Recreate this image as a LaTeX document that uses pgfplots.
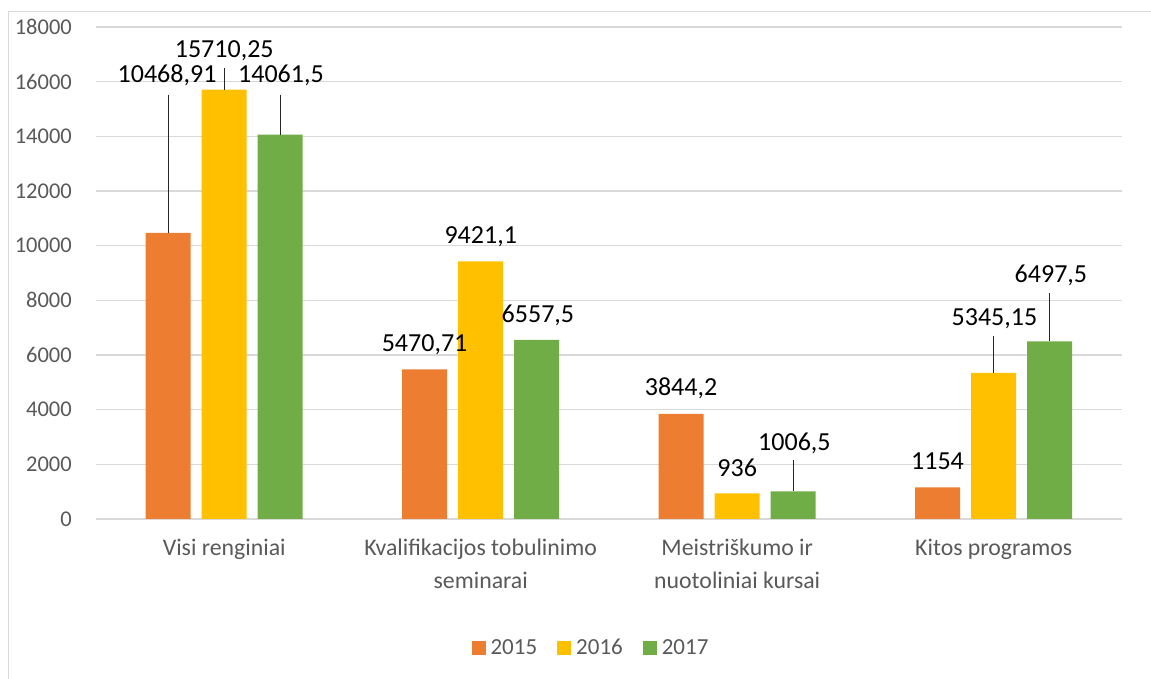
\documentclass[border=0pt]{standalone}
\usepackage{pgfplots}
\pgfplotsset{compat=1.18}
\usepackage{fontspec}
\setmainfont{Carlito}
\definecolor{cOr}{HTML}{ED7D31}
\definecolor{cYe}{HTML}{FFC000}
\definecolor{cGr}{HTML}{70AD47}
\definecolor{cGrid}{HTML}{D9D9D9}
\definecolor{cTxt}{HTML}{595959}
\definecolor{cLead}{HTML}{262626}
\begin{document}
\begin{tikzpicture}
\useasboundingbox (0,0) rectangle (1151pt,679pt);
\draw[cGrid, line width=1.5pt] (8.5pt,0) -- (8.5pt,667.5pt) -- (1151pt,667.5pt);
\begin{axis}[
  at={(96pt,160pt)}, anchor=south west,
  scale only axis, width=1026pt, height=492pt,
  ybar, bar width=45pt,
  xmin=-0.5, xmax=3.5, ymin=0, ymax=18000,
  enlarge x limits=false, enlarge y limits=false,
  clip=false,
  axis line style={draw=none},
  major tick length=0pt,
  ytick={0,2000,...,18000},
  scaled y ticks=false,
  ymajorgrids, grid style={cGrid, line width=1.5pt},
  xtick={0,1,2,3},
  xticklabels={Visi renginiai, Kvalifikacijos tobulinimo\\seminarai, Meistriškumo ir\\nuotoliniai kursai, Kitos programos},
  /pgf/number format/1000 sep={},
  /pgf/number format/assume math mode=true,
  yticklabel style={font=\fontsize{22.5}{27}\selectfont, text=cTxt, inner sep=0pt, xshift=-24pt},
  xticklabel style={font=\fontsize{23.8}{33}\selectfont, text=cTxt, align=center, inner sep=0pt, yshift=-20pt},
  legend columns=3,
  legend style={draw=none, fill=none, at={(0.4825,-0.262)}, anchor=center,
    font=\fontsize{23}{27}\selectfont, text=cTxt,
    /tikz/every even column/.append style={column sep=18pt}},
  legend cell align=left,
  legend image code/.code={\fill[#1] (0pt,-7pt) rectangle (14pt,7pt);},
]
\addplot[fill=cOr, draw=none, bar shift=-56pt] coordinates {(0,10468.91) (1,5470.71) (2,3844.2) (3,1154)};
\addplot[fill=cYe, draw=none, bar shift=0pt] coordinates {(0,15710.25) (1,9421.1) (2,936) (3,5345.15)};
\addplot[fill=cGr, draw=none, bar shift=56pt] coordinates {(0,14061.5) (1,6557.5) (2,1006.5) (3,6497.5)};
\legend{\hspace{3pt}2015,\hspace{3pt}2016,\hspace{3pt}2017}
% leader lines
\draw[cLead, line width=1.2pt] (axis cs:-0.218,15512) -- (axis cs:-0.218,10468.91);
\draw[cLead, line width=1.2pt] (axis cs:0,16500) -- (axis cs:0,15710.25);
\draw[cLead, line width=1.2pt] (axis cs:0.218,15512) -- (axis cs:0.218,14061.5);
\draw[cLead, line width=1.2pt] (axis cs:2.218,2158) -- (axis cs:2.218,1006.5);
\draw[cLead, line width=1.2pt] (axis cs:3,6695) -- (axis cs:3,5345.15);
\draw[cLead, line width=1.2pt] (axis cs:3.218,8268) -- (axis cs:3.218,6497.5);
% data labels
\begin{scope}[every node/.style={font=\fontsize{26}{30}\selectfont, anchor=base, inner sep=0pt, text=black}]
\node at (axis cs:-0.223,15951) {10468,91};
\node at (axis cs:0,16902) {15710,25};
\node at (axis cs:0.221,15951) {14061,5};
\node at (axis cs:0.781,6146) {5470,71};
\node at (axis cs:1.0,10097) {9421,1};
\node at (axis cs:1.223,7207) {6557,5};
\node at (axis cs:1.781,4500) {3844,2};
\node at (axis cs:2.0,1573) {936};
\node at (axis cs:2.223,2524) {1006,5};
\node at (axis cs:2.781,1793) {1154};
\node at (axis cs:3.003,7097) {5345,15};
\node at (axis cs:3.223,8634) {6497,5};
\end{scope}
\end{axis}
\end{tikzpicture}
\end{document}
